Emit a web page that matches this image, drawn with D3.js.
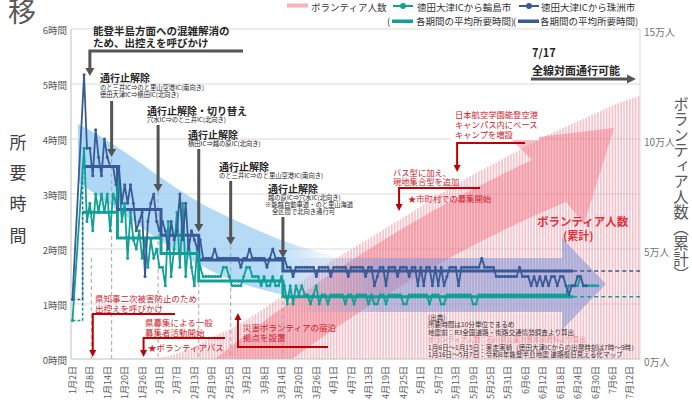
<!DOCTYPE html>
<html>
<head>
<meta charset="utf-8">
<script src="https://cdn.jsdelivr.net/npm/d3@7"></script>
<style>
body { margin: 0; background: #fff; }
svg { display: block; font-family: "Noto Sans CJK JP", "Noto Sans", sans-serif; }
</style>
</head>
<body>
<script>
// ---- data ----
var tickLabels = ["1月2日","1月8日","1月14日","1月20日","1月26日","2月1日","2月7日","2月13日","2月19日","2月25日",
  "3月2日","3月8日","3月14日","3月20日","3月26日","4月1日","4月7日","4月13日","4月19日","4月25日",
  "5月1日","5月7日","5月13日","5月19日","5月25日","5月31日","6月6日","6月12日","6月18日","6月24日",
  "6月30日","7月6日","7月12日"];
var hourLabels = ["0時間","1時間","2時間","3時間","4時間","5時間","6時間"];
var manLabels = ["0万人","5万人","10万人","15万人"];

// 地震前 (minutes)
var suzuPre = 65, wajimaPre = 42;

// daily travel time, minutes, from 1/6
var suzuStart = "2024-01-06";
var suzuMin = [310,230,230,200,250,220,200,240,220,210,210,190,
  210,170,190,170,190,170,140,150,160,90,150,170,180,150,140,
  150,140,120,150,130,140,180,130,170,120,140,130,120,130,
  110,110,110,110,120,110,110,110,110,110,110,110,110,100,110,110,120,110,110,110,110,110,100,110,120,110,110,110,
  110,100,100,90,100,100,100,100,100,100,
  100,90,100,100,100,100,90,100,100,100,
  100,100,90,100,100,100,100,100,90,100,
  100,80,90,100,100,80,100,100,100,90,
  100,100,100,90,100,100,80,100,80,100,
  100,80,100,80,100,80,90,100,100,100,
  80,100,100,100,100,100,100,100,110,100,
  100,100,100,90,90,90,90,90,90,90,
  90,100,90,90,90,80,90,80,90,80,
  90,80,90,90,80,90,90,80,70,80,
  80,90,90,80,80];

var wajimaStart = "2024-01-06";
var wajimaMin = [230,150,170,140,180,160,180,160,180,140,180,170,
  200,150,170,110,160,130,120,140,110,130,100,130,110,120,100,
  100,80,150,90,120,160,100,170,90,130,100,80,120,100,
  90,90,90,90,90,90,90,100,100,90,80,80,80,80,90,100,100,90,90,90,80,90,80,80,90,80,80,90,
  80,60,80,60,80,70,80,70,70,60,
  70,80,60,70,70,60,70,70,70,70,
  70,60,70,70,60,70,70,70,70,60,
  70,60,60,70,70,60,70,70,70,70,
  70,60,60,70,70,70,70,70,70,70,
  60,70,70,70,60,60,70,70,70,70,
  70,70,70,70,70,60,60,70,70,70,
  70,70,70,70,70,70,70,70,70,70,
  70,70,70,70,70,70,70,70,70,70,
  70,70,70,70,70,70,70,70,80,80,
  80,80,90,80,80,80,80,80,80];

// period averages (minutes)
var periodFrom = ["2024-01-06","2024-01-18","2024-02-02","2024-02-15","2024-03-15"];
var periodTo   = ["2024-01-17","2024-02-01","2024-02-14","2024-03-14","2024-06-22"];
var suzuAvg   = [210,163,135,108,96];
var wajimaAvg = [160,132,115,85,68];
var dashFrom = "2024-06-23", dashTo = "2024-07-15";

// cumulative volunteers (万人), from 1/27
var volStart = "2024-01-27";
var volMan = [0.01,0.02,0.03,0.04,0.05,0.06,0.08,
  0.10,0.13,0.17,0.21,0.25,0.29,0.34,
  0.39,0.45,0.51,0.57,0.63,0.70,0.77,
  0.84,0.91,0.98,1.04,1.10,1.16,1.22,
  1.28,1.34,1.40,1.47,1.55,1.63,1.71,
  1.79,1.87,1.95,2.03,2.12,2.21,2.30,
  2.39,2.48,2.57,2.66,2.75,2.85,2.95,
  3.05,3.15,3.25,3.35,3.44,3.53,3.62,
  3.71,3.80,3.89,3.98,4.07,4.16,4.25,
  4.34,4.43,4.51,4.59,4.67,4.75,4.83,
  4.91,4.99,5.07,5.15,5.23,5.31,5.39,
  5.47,5.55,5.63,5.71,5.79,5.87,5.95,
  6.03,6.11,6.19,6.27,6.35,6.43,6.51,
  6.59,6.67,6.75,6.84,6.93,7.02,7.11,
  7.20,7.28,7.36,7.44,7.52,7.60,7.68,
  7.76,7.84,7.92,8.00,8.08,8.16,8.24,
  8.31,8.38,8.45,8.52,8.59,8.66,8.73,
  8.80,8.87,8.94,9.01,9.08,9.15,9.22,
  9.29,9.36,9.43,9.50,9.57,9.64,9.71,
  9.78,9.85,9.92,9.99,10.06,10.13,10.20,
  10.26,10.32,10.38,10.44,10.50,10.56,10.62,
  10.68,10.74,10.80,10.86,10.92,10.98,11.04,
  11.10,11.16,11.22,11.28,11.34,11.40,11.46,
  11.52,11.57,11.62,11.67,11.72,11.77,11.82,
  11.86,11.90,11.94];

var eventDates = ["2024-01-16","2024-02-01","2024-02-15","2024-02-26","2024-03-15","2024-01-09"];

// ---- scales ----
var parse = d3.timeParse("%Y-%m-%d");
var key = d3.timeFormat("%m-%d");
var days = d3.timeDay.range(parse("2024-01-02"), parse("2024-07-16"));
var plotL = 71, plotR = 640, plotT = 29, plotB = 359;

var x = d3.scaleBand().domain(days.map(key)).range([plotL, plotR]).padding(0);
var bw = x.bandwidth();
var y = d3.scaleLinear().domain([0, 360]).range([plotB, plotT]);
var yR = d3.scaleLinear().domain([0, 15]).range([plotB, plotT]);

function kOff(start, i) { return key(d3.timeDay.offset(parse(start), i)); }
function kd(s) { return key(parse(s)); }
function cx(k) { return x(k) + bw / 2; }

var svg = d3.select("body").append("svg").attr("width", 692).attr("height", 405);

var blue = "#375b98", teal = "#11a096";

// grid
svg.append("g").selectAll("line").data(d3.range(1, 7)).enter().append("line")
  .attr("x1", plotL).attr("x2", plotR)
  .attr("y1", function(d){ return y(d*60); }).attr("y2", function(d){ return y(d*60); })
  .attr("stroke", "#d9d9d9").attr("stroke-width", 1);
svg.append("line").attr("x1", plotR).attr("x2", plotR).attr("y1", plotT).attr("y2", plotB)
  .attr("stroke", "#d9d9d9");

// volunteer bars
svg.append("g").selectAll("rect").data(volMan).enter().append("rect")
  .attr("x", function(d,i){ return x(kOff(volStart, i)) + bw*0.2; })
  .attr("width", bw*0.6)
  .attr("y", function(d){ return yR(d); })
  .attr("height", function(d){ return plotB - yR(d); })
  .attr("fill", "#f39aa6").attr("opacity", 0.6);

// decorative arrows
var defs = svg.append("defs");
var gr = defs.append("linearGradient").attr("id", "lav").attr("x1", "0").attr("x2", "1").attr("y1", "0").attr("y2", "0");
gr.append("stop").attr("offset", "0").attr("stop-color", "#8597d6").attr("stop-opacity", 0);
gr.append("stop").attr("offset", "0.3").attr("stop-color", "#8597d6").attr("stop-opacity", 0.55);
gr.append("stop").attr("offset", "1").attr("stop-color", "#8597d6").attr("stop-opacity", 0.6);
var gb = defs.append("linearGradient").attr("id", "bband").attr("x1", "0").attr("x2", "1").attr("y1", "0").attr("y2", "0");
gb.append("stop").attr("offset", "0").attr("stop-color", "#9fcff3").attr("stop-opacity", 0.85);
gb.append("stop").attr("offset", "0.75").attr("stop-color", "#9fcff3").attr("stop-opacity", 0.75);
gb.append("stop").attr("offset", "1").attr("stop-color", "#9fcff3").attr("stop-opacity", 0);

svg.append("path")
  .attr("d", "M215,359 Q370,235 532,160 L512,140 L614,128 L584,224 L566,202 Q430,258 292,359 Z")
  .attr("fill", "#ee7282").attr("opacity", 0.45);

svg.append("path")
  .attr("d", "M78,124 C130,150 170,190 220,213 C260,232 300,250 340,256 L340,302 C300,300 260,292 220,275 C170,252 130,218 78,182 Z")
  .attr("fill", "url(#bband)");

svg.append("path")
  .attr("d", "M285,258 L562,258 L562,238 L606,284 L562,330 L562,312 L285,312 Z")
  .attr("fill", "url(#lav)");

// event dashed lines
var evTop = [152, 157, 192, 232, 245, 258];
svg.append("g").selectAll("line").data(eventDates).enter().append("line")
  .attr("x1", function(d){ return x(kd(d)); }).attr("x2", function(d){ return x(kd(d)); })
  .attr("y1", function(d,i){ return evTop[i]; }).attr("y2", plotB)
  .attr("stroke", "#a6a6a6").attr("stroke-dasharray", "4,3").attr("stroke-width", 1);

// axes lines
svg.append("line").attr("x1", plotL).attr("x2", plotL).attr("y1", plotT).attr("y2", plotB).attr("stroke", "#bfbfbf");
svg.append("line").attr("x1", plotL).attr("x2", plotR).attr("y1", plotB).attr("y2", plotB).attr("stroke", "#bfbfbf");

// left axis labels
svg.append("g").selectAll("text").data(hourLabels).enter().append("text")
  .attr("x", 67).attr("y", function(d,i){ return y(i*60) + 1; })
  .attr("text-anchor", "end").attr("dominant-baseline", "central")
  .attr("font-size", 9.5).attr("fill", "#595959").text(function(d){ return d; });
// right axis labels
svg.append("g").selectAll("text").data(manLabels).enter().append("text")
  .attr("x", 644).attr("y", function(d,i){ return yR(i*5) + 2; })
  .attr("dominant-baseline", "central")
  .attr("font-size", 10).attr("fill", "#737373").text(function(d){ return d; });

// x tick labels
function labelKey(s) {
  var m = s.match(/(\d+)月(\d+)日/);
  return d3.format("02")(+m[1]) + "-" + d3.format("02")(+m[2]);
}
svg.append("g").selectAll("text").data(tickLabels).enter().append("text")
  .attr("transform", function(d){ return "translate(" + cx(labelKey(d)) + ",366) rotate(-90)"; })
  .attr("text-anchor", "end").attr("dominant-baseline", "central")
  .attr("font-size", 9).attr("fill", "#595959").text(function(d){ return d; });

// averages
function avgPts(vals) {
  var pts = [];
  vals.forEach(function(v, i){
    pts.push([x(kd(periodFrom[i])), y(v)]);
    pts.push([x(kd(periodTo[i])) + bw, y(v)]);
  });
  return pts;
}
var line = d3.line();
[[wajimaAvg, wajimaPre, teal], [suzuAvg, suzuPre, blue]].forEach(function(s){
  svg.append("path").attr("d", line(avgPts(s[0]))).attr("fill", "none")
    .attr("stroke", s[2]).attr("stroke-width", 3);
  svg.append("path").attr("d", line([[cx(kd("2024-01-02")), y(s[1])], [x(kd(periodFrom[0])), y(s[1])], [x(kd(periodFrom[0])), y(s[0][0])]]))
    .attr("fill", "none").attr("stroke", s[2]).attr("stroke-width", 1.5).attr("stroke-dasharray", "3,2");
  var last = s[0][s[0].length - 1];
  svg.append("path").attr("d", line([[x(kd(dashFrom)), y(last)], [x(kd(dashTo)) + bw, y(last)]]))
    .attr("fill", "none").attr("stroke", s[2]).attr("stroke-width", 1.5).attr("stroke-dasharray", "4,3");
});

// daily lines
function series(pre, start, vals) {
  var pts = [[cx(kd("2024-01-02")), y(pre)]];
  vals.forEach(function(v, i){ pts.push([cx(kOff(start, i)), y(v)]); });
  return pts;
}
[[wajimaPre, wajimaStart, wajimaMin, teal], [suzuPre, suzuStart, suzuMin, blue]].forEach(function(s){
  var pts = series(s[0], s[1], s[2]);
  svg.append("path").attr("d", line(pts)).attr("fill", "none")
    .attr("stroke", s[3]).attr("stroke-width", 1.8).attr("stroke-linejoin", "round");
  svg.append("g").selectAll("circle").data(pts).enter().append("circle")
    .attr("cx", function(d){ return d[0]; }).attr("cy", function(d){ return d[1]; })
    .attr("r", 1.5).attr("fill", s[3]);
});

// ---- annotations ----
var ann = svg.append("g");
function arrow(pts, color, w, hw, hl) {
  var n = pts.length, a = pts[n-2], b = pts[n-1];
  var dx = b[0]-a[0], dy = b[1]-a[1], L = Math.hypot(dx, dy), ux = dx/L, uy = dy/L;
  var base = [b[0]-ux*hl, b[1]-uy*hl];
  ann.append("path").attr("d", line(pts.slice(0, n-1).concat([base]))).attr("fill", "none")
    .attr("stroke", color).attr("stroke-width", w);
  ann.append("path").attr("d", "M" + b + "L" + [base[0]-uy*hw, base[1]+ux*hw] + "L" + [base[0]+uy*hw, base[1]-ux*hw] + "Z")
    .attr("fill", color);
}
function txt(s, tx, ty, size, color, weight, anchor) {
  return ann.append("text").attr("x", tx).attr("y", ty).attr("font-size", size)
    .attr("fill", color).attr("font-weight", weight || "normal")
    .attr("text-anchor", anchor || "start").text(s);
}
// multi-line block: rows = [[text, dx, dy, size, weight]]
function block(rows, tx, ty, color) {
  var t = ann.append("text").attr("x", tx).attr("y", ty).attr("fill", color);
  rows.forEach(function(r){
    t.append("tspan").attr("x", tx + (r[1] || 0)).attr("dy", r[2]).attr("font-size", r[3])
      .attr("font-weight", r[4] || "normal").text(r[0]);
  });
  return t;
}
var dark = "#555555", ink = "#262626", red = "#c00000", redTxt = "#d0202a";

block([["能登半島方面への混雑解消の", 0, 0, 10.5, "bold"], ["ため、出控えを呼びかけ", 0, 12, 10.5, "bold"]], 93, 35, ink);
arrow([[243, 51], [cx(kd("2024-01-08")), 51], [cx(kd("2024-01-08")), 76]], dark, 3, 4.5, 8);

block([["通行止解除", 0, 0, 10, "bold"], ["のと三井IC⇒のと里山空港IC(南向き)", 0, 8, 6.3], ["徳田大津IC⇒横田IC(北向き)", 0, 7, 6.3]], 100, 82, ink);
arrow([[x(kd(eventDates[0])), 101], [x(kd(eventDates[0])), 157]], dark, 3, 4.5, 8);

block([["通行止解除・切り替え", 0, 0, 10, "bold"], ["穴水IC⇒のと三井IC(北向き)", 0, 6.5, 6.3]], 147, 115, ink);
arrow([[x(kd(eventDates[1])), 125], [x(kd(eventDates[1])), 192]], dark, 3, 4.5, 8);

block([["通行止解除", 0, 0, 10, "bold"], ["横田IC⇒越の原IC(北向き)", 0, 7, 6.3]], 188, 138.5, ink);
arrow([[x(kd(eventDates[2])), 149], [x(kd(eventDates[2])), 232]], dark, 3, 4.5, 8);

block([["通行止解除", 0, 0, 10, "bold"], ["のと三井IC⇒のと里山空港IC(南向き)", 0, 6.5, 6.3]], 219, 171, ink);
arrow([[x(kd(eventDates[3])), 181], [x(kd(eventDates[3])), 245]], dark, 3, 4.5, 8);

block([["通行止解除", 0, 0, 10, "bold"], ["越の原IC⇒穴水IC(北向き)", 0, 6.5, 6.3],
  ["※能越自動車道・のと里山海道", -3, 7, 6.3], ["全区間で北向き通行可", 4, 7, 6.3]], 268, 193, ink);
arrow([[x(kd(eventDates[4])), 217], [x(kd(eventDates[4])), 258]], dark, 3, 4.5, 8);

block([["7/17", 0, 0, 11, "bold"], ["全線対面通行可能", 0, 18, 11, "bold"]], 532, 57, ink);
arrow([[531, 79], [636, 79]], dark, 3, 4.5, 9);

// red annotations
block([["県知事二次被害防止のため", 0, 0, 8.5], ["出控えを呼びかけ", 0, 10, 8.5]], 95, 301.5, redTxt);
arrow([[175, 314], [cx(kd("2024-01-09")), 314], [cx(kd("2024-01-09")), 357]], red, 2, 3.5, 7);

block([["県募集による一般", 0, 0, 8.5], ["募集者活動開始", 0, 10, 8.5], ["★ボランティアバス", 3, 15, 8.5]], 145, 325.5, redTxt);
arrow([[225, 338], [x(kd("2024-01-27")), 338], [x(kd("2024-01-27")), 357]], red, 2, 3.5, 7);

block([["災害ボランティアの宿泊", 0, 0, 8.5], ["拠点を設置", 0, 10, 8.5]], 243, 331, redTxt);
arrow([[328, 347], [cx(kd("2024-02-28")), 347], [cx(kd("2024-02-28")), 313]], red, 2, 3.5, 7);

ann.append("rect").attr("x", 451).attr("y", 108).attr("width", 88).attr("height", 32).attr("fill", "#fff");
block([["日本航空学園能登空港", 0, 0, 8.3], ["キャンパス内にベース", 0, 10, 8.3], ["キャンプを増設", 0, 10, 8.3]], 455, 118, redTxt);
arrow([[525, 143], [x(kd("2024-05-14")), 143], [x(kd("2024-05-14")), 172]], red, 2, 3.5, 7);

block([["バス型に加え、", 0, 0, 8.3], ["現地集合型を追加", 0, 9.5, 8.3]], 393, 175.5, redTxt);
arrow([[480, 188], [x(kd("2024-04-24")), 188], [x(kd("2024-04-24")), 211]], red, 2, 3.5, 7);
txt("★市町村での募集開始", 408, 202, 8.3, redTxt);

block([["ボランティア人数", 0, 0, 11.5, "bold"], ["(累計)", 26, 14, 11, "bold"]], 537, 226, "#e2303c");

// source
var src = ["(出典)", "所要時間は10分単位でまるめ", "地震前：R3全国道路・街路交通情勢調査より算出",
  "ボランティア人数：石川県災害対策本部資料より算出",
  "1月6日～1月15日：実走実績（徳田大津ICからの出発時刻は7時～9時）",
  "1月16日～5月7日：令和6年能登半島地震 道路復旧見える化マップ"];
var st = ann.append("text").attr("x", 428).attr("y", 319.5).attr("font-size", 6.6);
src.forEach(function(s, i){
  st.append("tspan").attr("x", 428).attr("dy", i ? 7.5 : 0)
    .attr("fill", i == 3 ? "#e58a96" : "#333").text(s);
});

// titles
txt("移", 8, 22, 28, "#595959");
["所","要","時","間"].forEach(function(c, i){
  ann.append("text").attr("x", 18).attr("y", [141,171,202,234][i]).attr("text-anchor", "middle")
    .attr("dominant-baseline", "central").attr("font-size", 17).attr("fill", "#404040").text(c);
});
ann.append("text").attr("x", 681).attr("y", 96).style("writing-mode", "vertical-rl")
  .attr("font-size", 15.5).attr("fill", "#595959").text("ボランティア人数（累計）");

// legend
var lg = svg.append("g");
lg.append("rect").attr("x", 287).attr("y", 3.5).attr("width", 21).attr("height", 4).attr("fill", "#f5b3bd");
lg.append("text").attr("x", 311).attr("y", 10.5).attr("font-size", 9.5).attr("fill", "#333").text("ボランティア人数");
[[393, 417, teal, "徳田大津ICから輪島市"], [519, 541, blue, "徳田大津ICから珠洲市"]].forEach(function(l){
  lg.append("line").attr("x1", l[0]).attr("x2", l[0] + 20).attr("y1", 6).attr("y2", 6).attr("stroke", l[2]).attr("stroke-width", 2);
  lg.append("circle").attr("cx", l[0] + 10).attr("cy", 6).attr("r", 3).attr("fill", l[2]);
  lg.append("text").attr("x", l[1]).attr("y", 10.5).attr("font-size", 9.5).attr("fill", "#333").text(l[3]);
  lg.append("text").attr("x", l[0] - 6).attr("y", 25).attr("font-size", 9.5).attr("fill", "#333").text("(");
  lg.append("rect").attr("x", l[0] - 1).attr("y", 19.5).attr("width", 21).attr("height", 3.5).attr("fill", l[2]);
  lg.append("text").attr("x", l[1] - 1).attr("y", 25).attr("font-size", 9.5).attr("fill", "#333").text("各期間の平均所要時間)");
});
</script>
</body>
</html>
